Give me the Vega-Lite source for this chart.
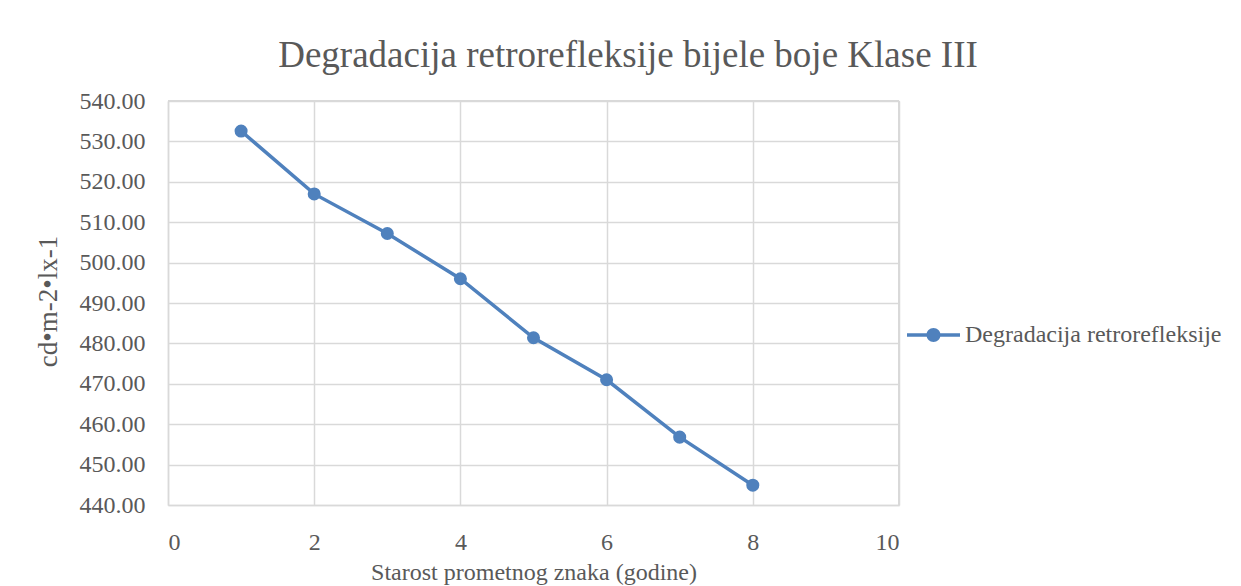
{
  "$schema": "https://vega.github.io/schema/vega-lite/v6.json",
  "autosize": "none",
  "width": 731,
  "height": 404,
  "padding": {"left": 168, "top": 101, "right": 342, "bottom": 81},
  "background": "white",
  "title": {
    "text": "Degradacija retrorefleksije bijele boje Klase III",
    "anchor": "middle",
    "frame": "group",
    "dx": 94.5,
    "dy": 38,
    "offset": 23,
    "baseline": "alphabetic",
    "font": "Liberation Serif",
    "fontSize": 37,
    "fontWeight": "normal",
    "color": "#595959"
  },
  "config": {
    "view": {"stroke": null},
    "style": {
      "guide-label": {"font": "Liberation Serif", "fontSize": 24, "fill": "#595959"},
      "guide-title": {"font": "Liberation Serif", "fontSize": 24, "fill": "#595959", "fontWeight": "normal"}
    },
    "axis": {
      "labelFont": "Liberation Serif",
      "titleFont": "Liberation Serif",
      "labelFontSize": 24,
      "titleFontSize": 24,
      "titleFontWeight": "normal",
      "labelColor": "#595959",
      "titleColor": "#595959",
      "gridColor": "#D9D9D9",
      "gridWidth": 1.5,
      "domainColor": "#D9D9D9",
      "domainWidth": 1.5,
      "tickSize": 0,
      "ticks": false
    },
    "legend": {
      "labelFont": "Liberation Serif",
      "labelFontSize": 24,
      "labelColor": "#595959",
      "labelLimit": 0
    }
  },
  "data": {
    "values": [
      {"godina": 1, "vrijednost": 532.57, "serija": "Degradacija retrorefleksije"},
      {"godina": 2, "vrijednost": 517.0, "serija": "Degradacija retrorefleksije"},
      {"godina": 3, "vrijednost": 507.2, "serija": "Degradacija retrorefleksije"},
      {"godina": 4, "vrijednost": 496.0, "serija": "Degradacija retrorefleksije"},
      {"godina": 5, "vrijednost": 481.4, "serija": "Degradacija retrorefleksije"},
      {"godina": 6, "vrijednost": 471.0, "serija": "Degradacija retrorefleksije"},
      {"godina": 7, "vrijednost": 456.8, "serija": "Degradacija retrorefleksije"},
      {"godina": 8, "vrijednost": 444.9, "serija": "Degradacija retrorefleksije"}
    ]
  },
  "encoding": {
    "x": {
      "field": "godina",
      "type": "quantitative",
      "scale": {"domain": [0, 10], "nice": false},
      "axis": {
        "values": [0, 2, 4, 6, 8, 10],
        "grid": true,
        "labelFont": "Liberation Serif",
        "labelFontSize": 24,
        "titleFont": "Liberation Serif",
        "titleFontSize": 24,
        "labelPadding": 25,
        "labelBaseline": "top",
        "title": "Starost prometnog znaka (godine)",
        "titleX": 365.5,
        "titleY": 74,
        "titleAlign": "center",
        "titleBaseline": "alphabetic"
      }
    },
    "y": {
      "field": "vrijednost",
      "type": "quantitative",
      "scale": {"domain": [440, 540], "nice": false, "zero": false},
      "axis": {
        "values": [440, 450, 460, 470, 480, 490, 500, 510, 520, 530, 540],
        "format": ".2f",
        "grid": true,
        "labelFont": "Liberation Serif",
        "labelFontSize": 24,
        "titleFont": "Liberation Serif",
        "titleFontSize": 27,
        "labelPadding": 23,
        "title": "cd•m-2•lx-1",
        "titleAngle": -90,
        "titleX": -120,
        "titleY": 200,
        "titleAlign": "center",
        "titleBaseline": "middle"
      }
    }
  },
  "layer": [
    {
      "mark": {"type": "rule", "color": "#D9D9D9", "strokeWidth": 1.5},
      "encoding": {"x": {"datum": 10}, "y": null}
    },
    {
      "mark": {"type": "rule", "color": "#D9D9D9", "strokeWidth": 1.5},
      "encoding": {"y": {"datum": 540}, "x": null}
    },
    {
      "mark": {"type": "line", "color": "#4F81BD", "strokeWidth": 3.5}
    },
    {
      "mark": {"type": "point", "filled": true, "opacity": 1, "size": 170, "shape": "circle"},
      "encoding": {
        "color": {
          "field": "serija",
          "type": "nominal",
          "scale": {"range": ["#4F81BD"]},
          "legend": {
            "title": null,
            "orient": "none",
            "legendX": 739,
            "legendY": 207.5,
            "symbolType": "M -1 -0.066 L 1 -0.066 L 1 0.066 L -1 0.066 Z M 0.264 0 A 0.264 0.264 0 1 1 -0.264 0 A 0.264 0.264 0 1 1 0.264 0 Z",
            "symbolSize": 2809,
            "symbolStrokeWidth": 0,
            "symbolOpacity": 1,
            "labelOffset": 5,
            "labelFont": "Liberation Serif",
            "labelFontSize": 24,
            "labelLimit": 0
          }
        }
      }
    }
  ]
}
